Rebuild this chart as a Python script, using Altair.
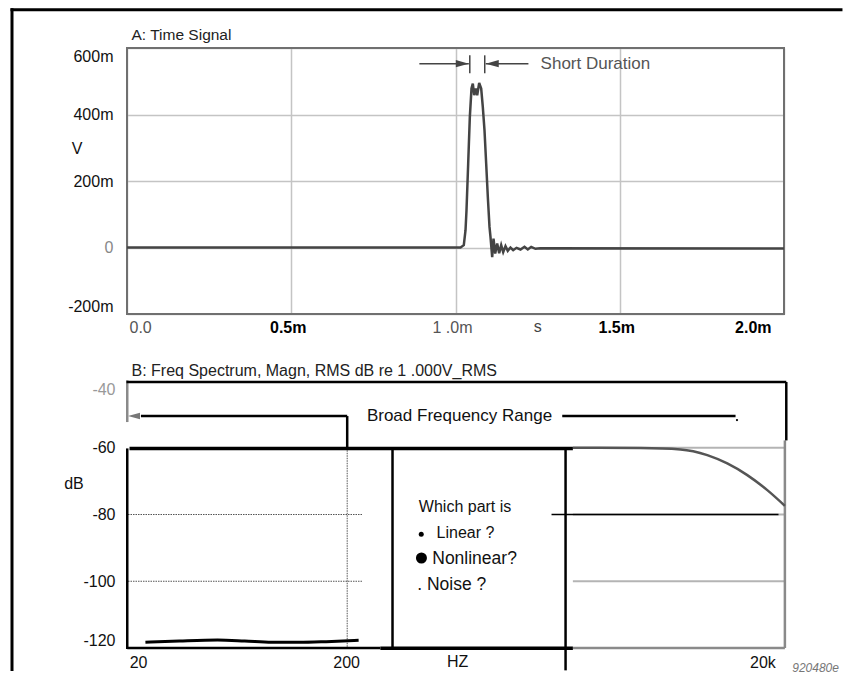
import altair as alt
import pandas as pd

FONT = "Liberation Sans, Arial, Helvetica, sans-serif"

# ---------------- Panel A: time signal ----------------
time_ms = [0.0, 1.0, 1.0152, 1.0253, 1.0305, 1.0335, 1.0386, 1.0436, 1.0487, 1.0527,
           1.0569, 1.0618, 1.0661, 1.0721, 1.0782, 1.0831, 1.0883, 1.0934, 1.0984, 1.1035,
           1.1065, 1.1117, 1.1157, 1.1209, 1.1269, 1.1330, 1.1391, 1.1452, 1.1522, 1.1592,
           1.1674, 1.1756, 1.1857, 1.1979, 1.2100, 1.2201, 1.2304, 1.2435, 1.258, 2.0]
volt_mv = [0, 0, 0, 7, 52, 112, 252, 392, 478, 493,
           458, 478, 458, 495, 478, 423, 352, 252, 152, 62,
           32, -29, 27, -18, 12, -17, 7, -14, 4, -10,
           0, -8, -1, -6, 2, -6, 2, -4, -2, -3]
time_ticks = [0, 0.5, 1.0, 1.5, 2.0]
volt_ticks = [-200, 0, 200, 400, 600]

# ---------------- Panel B: frequency spectrum ----------------
noise_hz = [21.7, 31.6, 48.2, 65.1, 87.8, 118.6, 160.2, 229.6]
noise_db = [-118.3, -117.9, -117.6, -117.9, -118.3, -118.3, -118.1, -117.7]
resp_hz = [2457, 5195, 8085, 10870, 13560, 16920, 21110, 25650]
resp_db = [-60.0, -60.1, -60.5, -62.2, -64.7, -68.2, -72.7, -77.4]
freq_ticks = [20, 200, 20000]
db_ticks = [-120, -100, -80, -60, -40]

W = 657
H_TOP = 266
H_BOT = 267

sxA = alt.Scale(domain=[0, 2], nice=False, zero=False)
syA = alt.Scale(domain=[-200, 600], nice=False, zero=False)
sxB = alt.Scale(type="log", domain=[17.7, 25400], nice=False)
syB = alt.Scale(domain=[-120, -40], nice=False, zero=False)

ARROW_R = "M0,0L-2,-0.55L-2,0.55Z"
ARROW_L = "M0,0L2,-0.55L2,0.55Z"

# ---------------- axes (identical in every layer so they merge) ----------------
x_axis_A = alt.Axis(
    values=time_ticks,
    labelExpr="datum.value == 0 ? '0.0' : datum.value == 1 ? '1 .0m' : format(datum.value, '.1f') + 'm'",
    grid=True, gridColor="#c4c4c4", gridWidth=1.5, domain=False, ticks=False,
    labelFlush=True, labelPadding=5, labelFontSize=16,
    labelOffset={"condition": [{"test": "datum.value == 2", "value": -13},
                               {"test": "datum.value == 0", "value": 2}],
                 "value": -3.5},
    labelFontWeight={"condition": {"test": "datum.value == 0.5 || datum.value == 1.5 || datum.value == 2",
                                   "value": "bold"}, "value": "normal"},
    labelColor={"condition": {"test": "datum.value == 0 || datum.value == 1", "value": "#555"}, "value": "#000"},
    title=None)
y_axis_A = alt.Axis(
    values=volt_ticks,
    labelExpr="datum.value == 0 ? '0' : datum.value + 'm'",
    grid=True, gridColor="#c4c4c4", gridWidth=1.5, domain=False, ticks=False,
    labelFlush=True, labelPadding=14, labelFontSize=16,
    labelColor={"condition": {"test": "datum.value == 0", "value": "#888"}, "value": "#111"},
    title="V", titleAngle=0, titleX=-50.5, titleY=100.6, titleAlign="center",
    titleBaseline="middle", titleFontSize=16, titleFontWeight="normal", titleColor="#111")
x_axis_B = alt.Axis(
    values=freq_ticks,
    labelExpr="datum.value >= 1000 ? (datum.value / 1000) + 'k' : '' + datum.value",
    grid=False, domain=False, ticks=False, labelFlush=False, labelPadding=6,
    labelFontSize=16, labelColor="#111", title=None)
y_axis_B = alt.Axis(
    values=db_ticks, labelExpr="'' + datum.value", grid=False, domain=False, ticks=False,
    labelFlush=True, labelPadding=12, labelFontSize=16,
    labelColor={"condition": {"test": "datum.value == -40", "value": "#999"}, "value": "#111"},
    title="dB", titleAngle=0, titleX=-53.5, titleY=102.3, titleAlign="center",
    titleBaseline="middle", titleFontSize=16, titleFontWeight="normal", titleColor="#111")

A = dict(sx=sxA, sy=syA, ax=x_axis_A, ay=y_axis_A)
B = dict(sx=sxB, sy=syB, ax=x_axis_B, ay=y_axis_B)


def enc(P, xf="x:Q", yf="y:Q"):
    return dict(x=alt.X(xf, scale=P["sx"], axis=P["ax"]),
                y=alt.Y(yf, scale=P["sy"], axis=P["ay"]))


def rules(rows, P, **kw):
    df = pd.DataFrame(rows, columns=["x", "x2", "y", "y2"])
    return alt.Chart(df).mark_rule(**kw).encode(x2="x2:Q", y2="y2:Q", **enc(P))


def bars(rows, P, **kw):
    df = pd.DataFrame(rows, columns=["x", "x2", "y", "y2"])
    return alt.Chart(df).mark_rect(**kw).encode(x2="x2:Q", y2="y2:Q", **enc(P))


def label(x, y, s, P, **kw):
    df = pd.DataFrame({"x": [x], "y": [y], "t": [s]})
    props = dict(font=FONT, fontSize=16, color="#111", baseline="middle", align="left")
    props.update(kw)
    return alt.Chart(df).mark_text(**props).encode(text="t:N", **enc(P))


def marker(x, y, shape, size, color, P):
    df = pd.DataFrame({"x": [x], "y": [y]})
    return alt.Chart(df).mark_point(shape=shape, size=size, filled=True, color=color,
                                    opacity=1, strokeWidth=0).encode(**enc(P))


# ---------------- top chart ----------------
sig = pd.DataFrame({"t": time_ms, "v": volt_mv})

frame_A = bars([[0, 2, -200, 600]], A, fillOpacity=0, stroke="#707070", strokeWidth=2)
signal = alt.Chart(sig).mark_line(color="#444", strokeWidth=2.5).encode(**enc(A, "t:Q", "v:Q"))

top = alt.layer(
    frame_A,
    signal,
    rules([[0.890, 1.0405, 553, 553], [1.092, 1.222, 553, 553]], A, color="#444", strokeWidth=1.5),
    rules([[1.0435, 1.0435, 524, 578], [1.089, 1.089, 524, 578]], A, color="#444", strokeWidth=1.5),
    marker(1.0405, 553, ARROW_R, 169, "#444", A),
    marker(1.092, 553, ARROW_L, 169, "#444", A),
    label(1.259, 553, "Short Duration", A, fontSize=17, color="#555"),
    label(0.0, 640.3, "A: Time Signal", A, dx=4.5, fontSize=15.5, color="#222"),
    label(1.25, -239, "s", A, align="center", color="#444"),
    # page border (top edge and full-height left edge)
    bars([[-0.35464, 2.178, 710.4, 719.4], [-0.35464, -0.34551, -1274.0, 719.4]], A, color="black"),
).properties(width=W, height=H_TOP)

# ---------------- bottom chart ----------------
noise = pd.DataFrame({"f": noise_hz, "db": noise_db})
resp = pd.DataFrame({"f": resp_hz, "db": resp_db})

noise_line = alt.Chart(noise).mark_line(color="black", strokeWidth=3, interpolate="monotone").encode(
    **enc(B, "f:Q", "db:Q"))
resp_line = alt.Chart(resp).mark_line(color="#555", strokeWidth=2.5, interpolate="monotone").encode(
    **enc(B, "f:Q", "db:Q"))

bottom = alt.layer(
    rules([[2457, 25650, -60, -60], [2457, 25650, -80, -80], [2457, 25650, -100, -100]],
          B, color="#b4b4b4", strokeWidth=2),
    rules([[25650, 25650, -57.8, -120], [2457, 25650, -120, -120], [17.75, 17.75, -39.8, -52.3]],
          B, color="#8a8a8a", strokeWidth=2.5),
    rules([[17.9, 240.6, -80, -80], [17.9, 240.6, -100, -100], [202.3, 202.3, -60, -120]],
          B, color="#555", strokeWidth=1, strokeDash=[1.5, 1]),
    marker(17.9, -50.5, ARROW_L, 144, "#777", B),
    resp_line,
    noise_line,
    rules([[17.6, 26050, -40.3, -40.3], [26050, 26050, -40.3, -57.8],
           [20.65, 202.3, -50.5, -50.5], [202.3, 202.3, -50.5, -60.0],
           [2184, 14860, -50.5, -50.5], [2266, 2266, -60.2, -126.7]],
          B, color="black", strokeWidth=2.5),
    rules([[18.2, 2457, -60.2, -60.2], [292, 2457, -120.1, -120.1]],
          B, color="black", strokeWidth=3.5),
    rules([[17.75, 17.75, -60.2, -120.3], [334, 334, -60.2, -120.3], [17.75, 292, -120, -120]],
          B, color="black", strokeWidth=2.5),
    rules([[1940, 23900, -80.03, -80.03]], B, color="black", strokeWidth=1.5),
    label(701, -50.5, "Broad Frequency Range", B, align="center", fontSize=17),
    label(17.7, -36.9, "B: Freq Spectrum, Magn, RMS dB re 1 .000V_RMS", B, dx=4.5, color="#222"),
    label(447, -79.25, "Which part is", B, baseline="alphabetic"),
    label(543.7, -87.13, "Linear ?", B, baseline="alphabetic"),
    label(518.4, -94.71, "Nonlinear?", B, baseline="alphabetic", fontSize=17.5),
    label(439, -102.5, ". Noise ?", B, baseline="alphabetic", fontSize=17.5),
    label(686, -124.3, "HZ", B, align="center"),
    label(36020, -126.0, "920480e", B, align="center", fontSize=12, fontStyle="italic", color="#777"),
    marker(459, -85.93, "circle", 25, "black", B),
    marker(460, -93.03, "circle", 121, "black", B),
    marker(15100, -51.7, "circle", 5, "black", B),
).properties(width=W, height=H_BOT)

chart = alt.vconcat(top, bottom, spacing=67, bounds="flush").properties(
    padding={"left": 2, "top": 0, "right": 0, "bottom": 0}
).configure_view(strokeWidth=0).configure_axis(labelFont=FONT, titleFont=FONT)

chart.save("out.html", embed_options={"renderer": "svg", "actions": False})
